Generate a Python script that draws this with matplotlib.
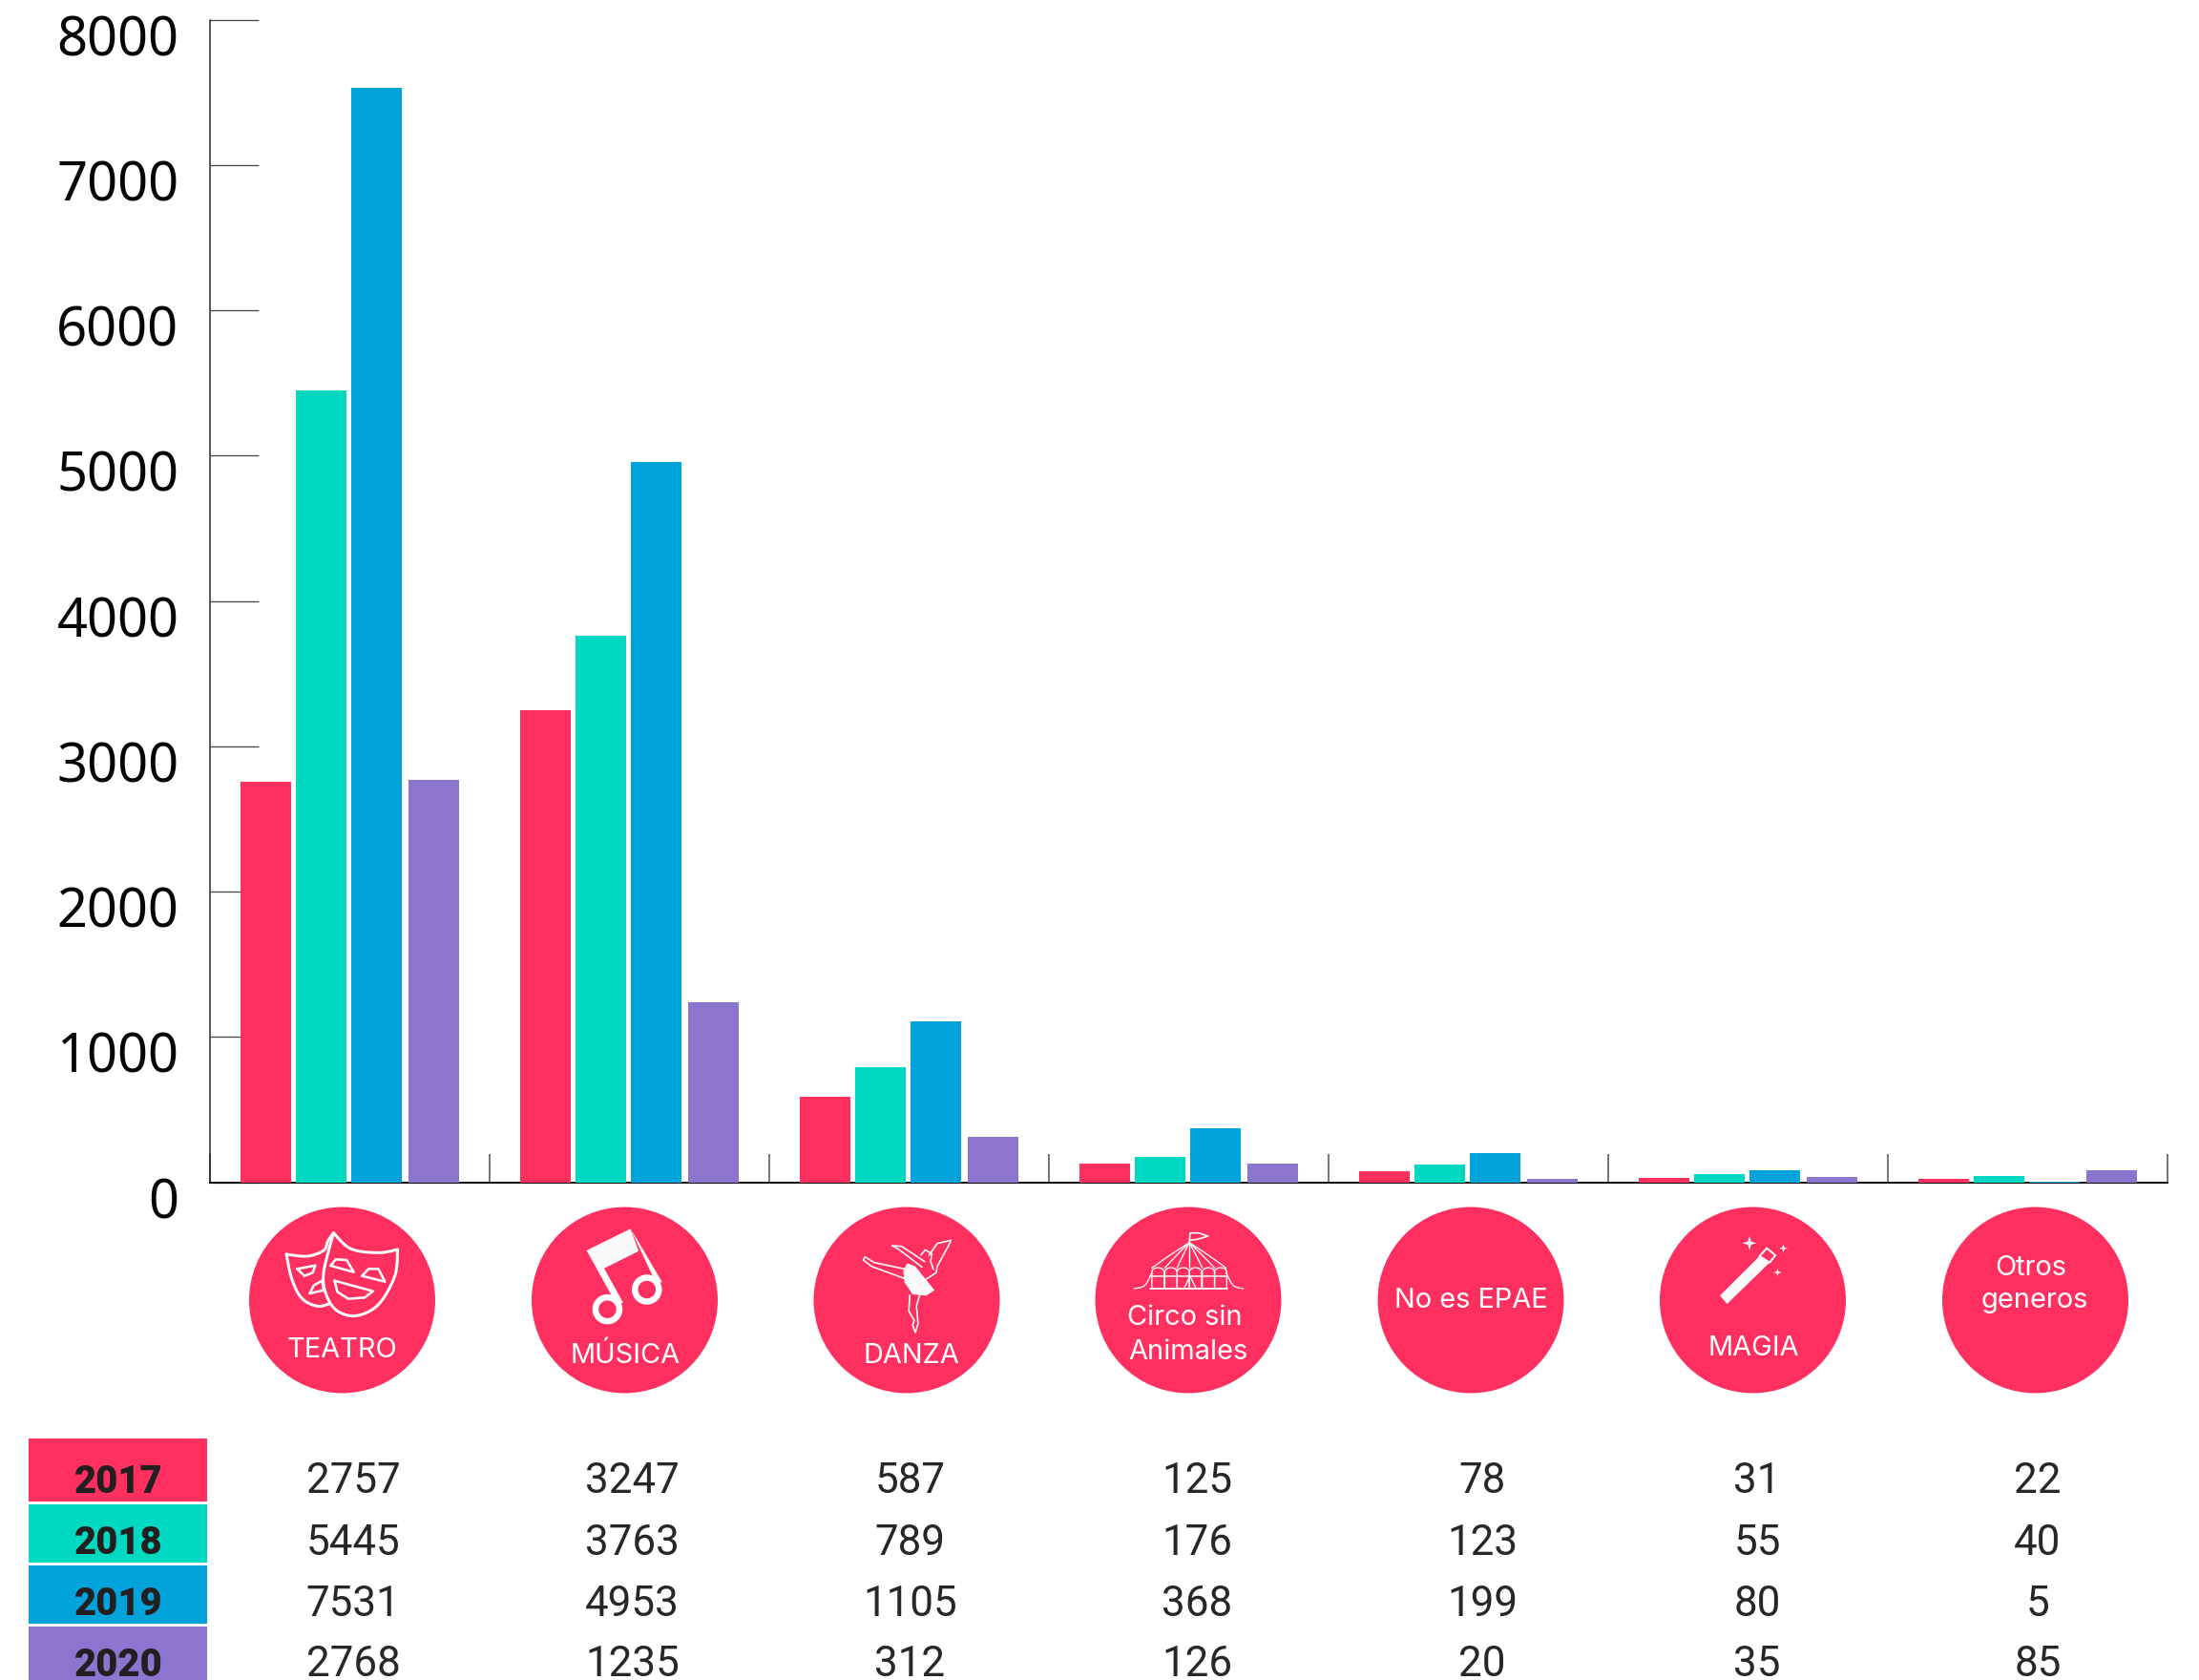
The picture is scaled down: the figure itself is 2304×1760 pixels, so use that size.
import numpy as np
import matplotlib
matplotlib.use("Agg")
import matplotlib.pyplot as plt
from matplotlib.patches import Circle, Polygon, Rectangle
from matplotlib.transforms import ScaledTranslation

categories = ["TEATRO", "MÚSICA", "DANZA", "Circo sin\nAnimales", "No es EPAE", "MAGIA", "Otros\ngeneros"]
years = ["2017", "2018", "2019", "2020"]
v2017 = [2757, 3247, 587, 125, 78, 31, 22]
v2018 = [5445, 3763, 789, 176, 123, 55, 40]
v2019 = [7531, 4953, 1105, 368, 199, 80, 5]
v2020 = [2768, 1235, 312, 126, 20, 35, 85]
series = [v2017, v2018, v2019, v2020]
colors = ["#FF3060", "#00D9C2", "#00A3DA", "#8C75CE"]
yticks = [0, 1000, 2000, 3000, 4000, 5000, 6000, 7000, 8000]

W, H = 2304, 1760
PT = 72 / 100  # points per pixel
fig = plt.figure(figsize=(W / 100, H / 100), dpi=100, facecolor="white")

L, R, T, B = 219.5, 2270.5, 20.5, 1238.5
ax = fig.add_axes([L / W, 1 - B / H, (R - L) / W, (B - T) / H])
x = np.arange(len(categories))
bar_offsets = [-0.3, -0.1, 0.097, 0.303]
for off_i, vals, col in zip(bar_offsets, series, colors):
    ax.bar(x + off_i, vals, width=0.181, color=col, zorder=3, linewidth=0)
ax.set_xlim(-0.5, 6.5)
ax.set_ylim(0, 8000)
for s in ("top", "right"):
    ax.spines[s].set_visible(False)
ax.spines["left"].set_linewidth(1.5 * PT)
ax.spines["left"].set_color("#222222")
ax.spines["bottom"].set_linewidth(2 * PT)
ax.spines["bottom"].set_color("#111111")
ax.set_xticks(np.arange(-0.5, 7, 1))
ax.set_xticklabels([])
ax.tick_params(axis="x", direction="in", length=30 * PT, width=2 * PT, color="#777777")
ax.set_yticks(yticks)
ax.tick_params(axis="y", direction="in", length=51 * PT, width=1.3 * PT, color="#444444",
               pad=32 * PT, labelsize=56 * PT, labelcolor="#050505")
off = ScaledTranslation(0, -16 / 100, fig.dpi_scale_trans)
for lab in ax.get_yticklabels():
    lab.set_transform(lab.get_transform() + off)
    lab.set_fontfamily("Noto Sans")

# pixel overlay for badges and table
ov = fig.add_axes([0, 0, 1, 1], facecolor="none")
ov.set_xlim(0, W)
ov.set_ylim(H, 0)
ov.axis("off")

centers = [358.5, 654.5, 950, 1245, 1541, 1836.5, 2132.5]
for c in centers:
    ov.add_patch(Circle((c, 1362), 97.5, facecolor=colors[0], edgecolor="none"))


def smooth(pts, closed=False, n=10):
    p = np.asarray(pts, float)
    if closed:
        p = np.vstack([p[-1], p, p[0], p[1]])
    else:
        p = np.vstack([p[0], p, p[-1]])
    out = []
    for i in range(1, len(p) - 2):
        p0, p1, p2, p3 = p[i - 1], p[i], p[i + 1], p[i + 2]
        for t in np.linspace(0, 1, n, endpoint=False):
            out.append(0.5 * (2 * p1 + (p2 - p0) * t + (2 * p0 - 5 * p1 + 4 * p2 - p3) * t ** 2
                              + (3 * p1 - p0 - 3 * p2 + p3) * t ** 3))
    out.append(p[-2])
    return np.array(out)


def z1(pts):
    return [(230 + a / 1.742, 1240 + b / 3) for a, b in pts]


def z2(pts):
    return [(1120 + a / 1.324, 1240 + b / 3) for a, b in pts]


def line(pts, lw=2.5, sm=False, closed=False):
    q = smooth(pts, closed) if sm else np.asarray(pts)
    if closed and not sm:
        q = np.vstack([q, q[0]])
    ov.plot(q[:, 0], q[:, 1], color="white", lw=lw * PT, solid_capstyle="round",
            solid_joinstyle="round", zorder=5)


def fill(pts, color="#FAFAFA"):
    ov.add_patch(Polygon(pts, closed=True, facecolor=color, edgecolor="none", zorder=5))


# masks
line(z1([(122, 222), (160, 228), (190, 210), (198, 180), (208, 155)]), 3, True)
line(z1([(122, 222), (132, 300), (150, 360), (178, 385), (200, 378)]), 3, True)
line(z1([(208, 155), (240, 205), (290, 217), (325, 207)]), 3, True)
line(z1([(325, 207), (320, 290), (290, 380), (250, 415), (215, 400), (195, 350), (190, 280), (208, 155)]), 3, True)
for e in ([(203, 258), (212, 238), (232, 240), (245, 278)], [(260, 290), (272, 268), (290, 268), (302, 308)],
          [(210, 305), (280, 338), (265, 358), (235, 362), (215, 340)], [(142, 268), (175, 257), (170, 280), (155, 290)],
          [(165, 345), (172, 320), (187, 305), (190, 335)]):
    line(z1(e), 2.5, False, True)

# music
fill(z1([(670, 210), (750, 142), (765, 212), (700, 268)]))
fill(z1([(670, 210), (684, 210), (737, 375), (723, 375)]))
fill(z1([(750, 142), (762, 175), (808, 310), (796, 310)]))
for p in z1([(708, 395), (780, 333)]):
    ov.add_patch(Circle(p, 12.5, facecolor="none", edgecolor="white", lw=6.5 * PT, zorder=5))

# dancer
fill(z1([(1255, 250), (1270, 260), (1305, 335), (1290, 352), (1265, 348), (1250, 310), (1248, 275)]))
line(z1([(1250, 268), (1195, 248), (1178, 230), (1175, 240), (1190, 260), (1250, 298)]), 1.6)
line(z1([(1228, 195), (1245, 197), (1287, 245)]), 1.6)
line(z1([(1228, 195), (1240, 207), (1282, 262)]), 1.6)
line(z1([(1295, 225), (1310, 188), (1335, 178), (1332, 190), (1310, 260), (1308, 280), (1290, 300)]), 1.6)
line(z1([(1280, 225), (1288, 208), (1300, 220), (1298, 245), (1303, 270)]), 1.6)
line(z1([(1260, 350), (1258, 400), (1268, 430), (1265, 445), (1270, 468), (1275, 440), (1272, 385), (1278, 350)]), 1.6)

# circus
line(z2([(167, 185), (168, 155), (180, 155), (193, 165), (178, 175), (168, 178)]), 1.6)
for a, b in [(115, 265), (133, 265), (150, 265), (167, 265), (185, 265), (202, 265), (218, 265)]:
    line(z2([(167, 185), ((167 + a) / 2 + (a - 167) * 0.08, 230), (a, b)]), 1.3, True)
for a in (115, 133, 150, 167, 185, 202):
    ts = np.linspace(np.pi, 0, 12)
    arch = [(a + 8.5 + 8.5 * np.cos(t), 278 - 14 * np.sin(t)) for t in ts]
    line(z2([(a, 325)] + arch + [(a + 17, 325)]), 1.3)
line(z2([(113, 290), (220, 290)]), 1.5)
line(z2([(113, 330), (220, 330)]), 1.8)
line(z2([(90, 330), (105, 320), (115, 280)]), 1.3, True)
line(z2([(242, 330), (228, 320), (218, 280)]), 1.3, True)
line(z2([(160, 328), (168, 290), (176, 328)]), 1.3)

# wand
fill(z2([(903, 352), (958, 228), (972, 248), (913, 378)]))
line(z2([(968, 203), (980, 225), (972, 248), (958, 228), (968, 203)]), 2)
for cx, cy, hx, hy in [(944, 187, 10, 22), (991, 203, 6, 13), (983, 279, 6, 12)]:
    fill(z2([(cx, cy - hy), (cx + hx * .22, cy - hy * .22), (cx + hx, cy), (cx + hx * .22, cy + hy * .22),
             (cx, cy + hy), (cx - hx * .22, cy + hy * .22), (cx - hx, cy), (cx - hx * .22, cy - hy * .22)]), "white")

# badge labels
label_pos = [[(358, 1412)], [(655, 1417)], [(954.5, 1417)], [(1241, 1378), (1245, 1413)],
             [(1541.5, 1359)], [(1837.5, 1410)], [(2128, 1325), (2132, 1360)]]
for name, pos in zip(categories, label_pos):
    for part, (px, py) in zip(name.split("\n"), pos):
        ov.text(px, py, part, color="white", fontsize=29 * PT, family="Inter",
                ha="center", va="center_baseline", zorder=6)

# table
rows = [(1507, 1573, 1548), (1576, 1637, 1612.5), (1640, 1701, 1676.5), (1704, 1760, 1740)]
value_x = [370, 662.5, 953.5, 1254.5, 1553, 1841, 2135]
for (y0, y1, yc), yr, vals, col in zip(rows, years, series, colors):
    ov.add_patch(Rectangle((30, y0), 187, y1 - y0, facecolor=col, edgecolor="none"))
    ov.text(124.5, yc, yr, color="#231F20", fontsize=40 * PT, family="Roboto", fontweight="black",
            ha="center", va="center_baseline")
    for vx, v in zip(value_x, vals):
        ov.text(vx, yc, str(v), color="#2A2627", fontsize=44 * PT, family="Roboto",
                ha="center", va="center_baseline")

fig.savefig("out.png", dpi=100)
